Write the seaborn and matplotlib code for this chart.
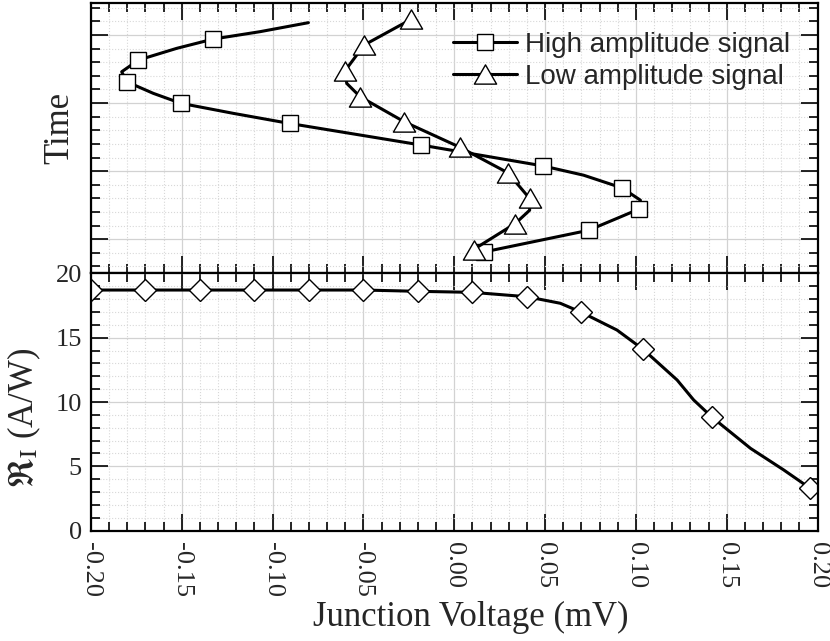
import numpy as np
import pandas as pd
import matplotlib
matplotlib.use("Agg")
import matplotlib.pyplot as plt
import seaborn as sns
from matplotlib.path import Path
from matplotlib.ticker import MultipleLocator, FuncFormatter

# ---- time-domain response of the junction (upper panel) ----
high_v = [-0.0803, -0.1069, -0.1326, -0.1528, -0.1739, -0.1831, -0.1803,
          -0.1657, -0.1504, -0.1216, -0.0907, -0.0185, 0.0487, 0.0712,
          0.0924, 0.1025, 0.1015, 0.0915, 0.0740, 0.0163]
high_t = [3.681, 3.549, 3.441, 3.304, 3.132, 2.960, 2.813,
          2.643, 2.496, 2.349, 2.201, 1.885, 1.578, 1.441,
          1.254, 1.074, 0.941, 0.828, 0.632, 0.313]
high_mark = [False, False, True, False, True, False, True,
             False, True, False, True, True, True, False,
             True, False, True, False, True, True]

low_v = [-0.0237, -0.0496, -0.0601, -0.0592, -0.0518, -0.0275, 0.0033,
         0.0296, 0.0415, 0.0415, 0.0336, 0.0106]
low_t = [3.731, 3.353, 2.975, 2.789, 2.593, 2.225, 1.849,
         1.475, 1.099, 0.926, 0.731, 0.349]
low_mark = [True, True, True, False, True, True, True,
            True, True, False, True, True]

# ---- current responsivity vs junction voltage (lower panel) ----
resp_v = [-0.20, -0.17, -0.14, -0.11, -0.08, -0.05, -0.02, 0.01, 0.04,
          0.0584, 0.07, 0.0896, 0.104, 0.1227, 0.1318, 0.142, 0.1631,
          0.1814, 0.196]
resp_r = [18.70, 18.70, 18.70, 18.70, 18.70, 18.70, 18.60, 18.52, 18.18,
          17.67, 16.97, 15.59, 14.09, 11.71, 10.16, 8.81, 6.40,
          4.72, 3.29]
resp_mark = [True, True, True, True, True, True, True, True, True,
             False, True, False, True, False, False, True, False,
             False, True]

x_ticks = [-0.20, -0.15, -0.10, -0.05, 0.00, 0.05, 0.10, 0.15, 0.20]
r_ticks = [0, 5, 10, 15, 20]

sns.set_style("white")
plt.rcParams["font.family"] = ["Liberation Serif", "DejaVu Serif"]
plt.rcParams["mathtext.fontset"] = "stix"
plt.rcParams["axes.unicode_minus"] = False

tri = Path([(0, 0.866), (-1, -0.866), (1, -0.866), (0, 0.866)],
           [Path.MOVETO, Path.LINETO, Path.LINETO, Path.CLOSEPOLY])

fig = plt.figure(figsize=(8.3, 6.41), dpi=100)
W, H = 830, 641
ax_top = fig.add_axes([91 / W, 1 - 273.3 / H, 726.5 / W, 270.3 / H])
ax_bot = fig.add_axes([91 / W, 1 - 530.7 / H, 726.5 / W, 257.4 / H])

line_kw = dict(color="black", linewidth=2.2, sort=False, estimator=None,
               markerfacecolor="white", markeredgecolor="black",
               markeredgewidth=1.0, solid_joinstyle="round")

df_high = pd.DataFrame({"v": high_v, "t": high_t})
df_low = pd.DataFrame({"v": low_v, "t": low_t})
df_resp = pd.DataFrame({"v": resp_v, "r": resp_r})

sns.lineplot(data=df_high, x="v", y="t", ax=ax_top, marker="s",
             markersize=12, markevery=high_mark,
             label="High amplitude signal", **line_kw)
sns.lineplot(data=df_low, x="v", y="t", ax=ax_top, marker=tri,
             markersize=16, markevery=low_mark,
             label="Low amplitude signal", **line_kw)
sns.lineplot(data=df_resp, x="v", y="r", ax=ax_bot, marker="D",
             markersize=11.5, markevery=resp_mark, **line_kw)

fmt = FuncFormatter(lambda v, p: f"{0.0 if abs(v) < 1e-9 else v:.2f}")

for ax in (ax_top, ax_bot):
    ax.set_xlim(-0.2, 0.2)
    ax.set_xticks(x_ticks)
    ax.xaxis.set_minor_locator(MultipleLocator(0.01))
    ax.xaxis.set_major_formatter(fmt)
    ax.set_axisbelow(True)
    ax.grid(which="major", color="#d2d2d2", linewidth=0.9, linestyle="-")
    ax.grid(which="minor", color="#d8d8d8", linewidth=0.8, linestyle=":")
    ax.tick_params(which="both", direction="in", top=True, right=True,
                   bottom=True, left=True, width=1.2, color="black")
    ax.tick_params(which="major", length=12.5)
    ax.tick_params(which="minor", length=6.5)
    for s in ax.spines.values():
        s.set_linewidth(1.6)
        s.set_color("black")

# upper panel: time axis without numbers
ax_top.set_ylim(0, 3.97)
ax_top.yaxis.set_major_locator(MultipleLocator(1.0, offset=0.5))
ax_top.yaxis.set_minor_locator(MultipleLocator(0.2, offset=0.1))
ax_top.tick_params(labelbottom=False, labelleft=False)
ax_top.set_xlabel("")
ax_top.set_ylabel("Time", fontsize=25)
ax_top.yaxis.set_label_coords(-0.02, 0.536)

leg = ax_top.legend(loc="upper left", bbox_to_anchor=(0.498, 0.893),
                    frameon=False, borderpad=0, borderaxespad=0,
                    handlelength=2.3, handletextpad=0.3, labelspacing=0.22,
                    prop={"family": "Liberation Sans", "size": 20})
for h in leg.legend_handles:
    h.set_linewidth(2.2)

# lower panel: responsivity
ax_bot.set_ylim(0, 20)
ax_bot.set_yticks(r_ticks)
ax_bot.yaxis.set_minor_locator(MultipleLocator(1))
ax_bot.tick_params(axis="x", labelsize=19, labelrotation=-90, pad=8)
ax_bot.tick_params(axis="y", labelsize=19, pad=6.5)
ax_bot.set_xlabel("Junction Voltage (mV)", fontsize=25)
ax_bot.xaxis.set_label_coords(0.523, -0.272)
ax_bot.set_ylabel(r"$\mathfrak{R}_{\mathrm{I}}$ (A/W)", fontsize=25)
ax_bot.yaxis.set_label_coords(-0.066, 0.44)

fig.savefig("out.png", dpi=100)
